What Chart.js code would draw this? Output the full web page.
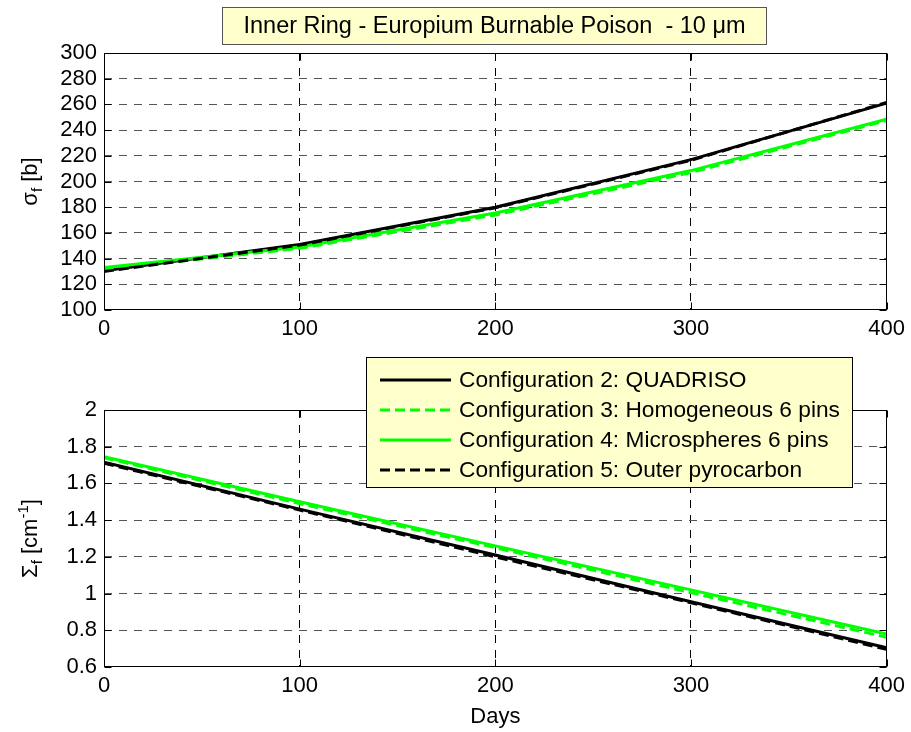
<!DOCTYPE html>
<html><head><meta charset="utf-8">
<script src="https://cdn.jsdelivr.net/npm/chart.js@4.4.1/dist/chart.umd.min.js"></script>
<style>
html,body{margin:0;padding:0;background:#fff;}
#wrap{position:relative;width:911px;height:732px;overflow:hidden;background:#fff;}
canvas{position:absolute;left:0;}
</style></head><body>
<div id="wrap">
<canvas id="c1" width="911" height="345" style="top:0px"></canvas>
<canvas id="c2" width="911" height="387" style="top:345px"></canvas>
</div>
<script>
// ---------------- data ----------------
const days = [0, 100, 200, 300, 400];
const seriesNames = [
  'Configuration 2: QUADRISO',
  'Configuration 3: Homogeneous 6 pins',
  'Configuration 4: Microspheres 6 pins',
  'Configuration 5: Outer pyrocarbon'
];
// microscopic fission cross section sigma_f [b]
const sigmaConfig2 = [130.5, 151, 180, 217, 261];
const sigmaConfig3 = [131.5, 148, 174, 207, 247.5];
const sigmaConfig4 = [133, 149, 175.5, 208.5, 248.5];
const sigmaConfig5 = [130, 150.5, 179.5, 216.5, 261.5];
// macroscopic fission cross section Sigma_f [cm^-1]
const SigmaConfig2 = [1.715, 1.46, 1.21, 0.955, 0.705];
const SigmaConfig3 = [1.74, 1.49, 1.25, 1.005, 0.762];
const SigmaConfig4 = [1.745, 1.50, 1.26, 1.02, 0.78];
const SigmaConfig5 = [1.71, 1.455, 1.20, 0.95, 0.696];
// tick labels
const xTicks = [0, 100, 200, 300, 400];
const sigmaTicks = [100, 120, 140, 160, 180, 200, 220, 240, 260, 280, 300];
const SigmaTicks = [0.6, 0.8, 1, 1.2, 1.4, 1.6, 1.8, 2];
const titleText = 'Inner Ring - Europium Burnable Poison  - 10 \u03BCm';
const xTitle = 'Days';

// ---------------- styles ----------------
const FONT = '"Liberation Sans", Arial, Helvetica, sans-serif';
const FS = 22;
const LEG_FS = 22.7;
const TITLE_FS = 23.5;
const GREEN = '#00ff00';
const styles = [
  {color:'#000', dash:[], order:4},
  {color:GREEN, dash:[10,5], order:3},
  {color:GREEN, dash:[], order:2},
  {color:'#000', dash:[10,5], order:1}
];

function mkDatasets(seriesList){
  return seriesList.map((vals,i)=>({
    label: seriesNames[i],
    data: days.map((d,j)=>({x:d, y:vals[j]})),
    borderColor: styles[i].color,
    borderDash: styles[i].dash,
    borderWidth: 3,
    pointRadius: 0,
    tension: 0,
    fill: false,
    order: styles[i].order,
    borderCapStyle: 'butt'
  }));
}

const framePlugin = {
  id:'frame',
  afterDatasetsDraw(chart){
    const {ctx, chartArea:a, scales} = chart;
    ctx.save();
    ctx.strokeStyle = '#000'; ctx.lineWidth = 1; ctx.setLineDash([]);
    const L = Math.round(a.left)+0.5, R = Math.round(a.right)-0.5, T = Math.round(a.top)+0.5, B = Math.round(a.bottom)-0.5;
    ctx.beginPath();
    scales.x.ticks.forEach(t=>{
      const px = Math.round(scales.x.getPixelForValue(t.value))+0.5;
      ctx.moveTo(px,B); ctx.lineTo(px,B-7); ctx.moveTo(px,T); ctx.lineTo(px,T+7);
    });
    scales.y.ticks.forEach(t=>{
      const py = Math.round(scales.y.getPixelForValue(t.value))+0.5;
      ctx.moveTo(L,py); ctx.lineTo(L+7,py); ctx.moveTo(R,py); ctx.lineTo(R-7,py);
    });
    ctx.stroke();
    ctx.strokeRect(L,T,R-L,B-T);
    ctx.restore();
  }
};

const yTitlePlugin = {
  id:'ytitle',
  afterDraw(chart, args, opts){
    if(!opts || !opts.parts) return;
    const {ctx, chartArea:a} = chart;
    const cy = (a.top+a.bottom)/2;
    ctx.save();
    ctx.fillStyle = '#000';
    ctx.textBaseline = 'alphabetic';
    let total = 0;
    opts.parts.forEach(p=>{ ctx.font = p.size+'px '+FONT; p.w = ctx.measureText(p.t).width; total += p.w; });
    ctx.translate(opts.x, cy);
    ctx.rotate(-Math.PI/2);
    let pos = -total/2;
    opts.parts.forEach(p=>{ ctx.font = p.size+'px '+FONT; ctx.fillText(p.t, pos, p.dy); pos += p.w; });
    ctx.restore();
  }
};

const titleBoxPlugin = {
  id:'titlebox',
  afterDraw(chart, args, opts){
    if(!opts || !opts.text) return;
    const ctx = chart.ctx;
    ctx.save();
    ctx.fillStyle = '#ffffcc';
    ctx.fillRect(opts.x, opts.y, opts.w, opts.h);
    ctx.strokeStyle = '#555'; ctx.lineWidth = 1;
    ctx.strokeRect(opts.x+0.5, opts.y+0.5, opts.w-1, opts.h-1);
    ctx.fillStyle = '#000';
    ctx.font = TITLE_FS+'px '+FONT;
    ctx.textAlign = 'center'; ctx.textBaseline = 'middle';
    ctx.fillText(opts.text, opts.x+opts.w/2, opts.y+opts.h/2+1);
    ctx.restore();
  }
};

const legendBoxPlugin = {
  id:'legendbox',
  afterDraw(chart, args, opts){
    if(!opts || !opts.show) return;
    const ctx = chart.ctx;
    ctx.save();
    ctx.fillStyle = '#ffffcc';
    ctx.fillRect(opts.x, opts.y, opts.w, opts.h);
    ctx.strokeStyle = '#000'; ctx.lineWidth = 1;
    ctx.strokeRect(opts.x+0.5, opts.y+0.5, opts.w-1, opts.h-1);
    const ds = chart.data.datasets;
    ds.forEach((d,i)=>{
      const cy = opts.y + opts.row0 + i*opts.rowH;
      ctx.beginPath();
      ctx.strokeStyle = d.borderColor; ctx.lineWidth = 3;
      ctx.setLineDash(d.borderDash||[]);
      ctx.moveTo(opts.x+14, cy); ctx.lineTo(opts.x+85, cy);
      ctx.stroke();
      ctx.setLineDash([]);
      ctx.fillStyle = '#000';
      ctx.font = LEG_FS+'px '+FONT;
      ctx.textAlign = 'left'; ctx.textBaseline = 'middle';
      ctx.fillText(d.label, opts.x+93, cy+1);
    });
    ctx.restore();
  }
};

function fmt(v){ return String(Number(Number(v).toFixed(2))); }

function makeOptions(cfg){
  return {
    responsive:false, animation:false, events:[],
    layout:{padding:{top:cfg.padTop, right:24, bottom:0, left:0}},
    plugins:{
      legend:{display:false}, tooltip:{enabled:false},
      ytitle:{x:37, parts:cfg.yParts},
      titlebox: cfg.titleBox || {},
      legendbox: cfg.legendBox || {}
    },
    scales:{
      x:{
        type:'linear', min:0, max:400,
        afterFit:s=>{ s.height = cfg.xHeight; },
        afterBuildTicks:s=>{ s.ticks = xTicks.map(v=>({value:v})); },
        ticks:{padding:6, color:'#000', font:{family:FONT, size:FS}, maxRotation:0, autoSkip:false, callback:v=>fmt(v)},
        grid:{drawTicks:false, lineWidth:1, color:c=>(c.tick && (c.tick.value===0||c.tick.value===400)) ? 'rgba(0,0,0,0)' : '#000'},
        border:{display:false, dash:[8,7]},
        title: cfg.xTitle ? {display:true, text:cfg.xTitle, color:'#000', font:{family:FONT, size:FS}, padding:{top:0,bottom:2}} : {display:false}
      },
      y:{
        type:'linear', min:cfg.yMin, max:cfg.yMax,
        afterFit:s=>{ s.width = 104; },
        afterBuildTicks:s=>{ s.ticks = cfg.yTicks.map(v=>({value:v})); },
        ticks:{padding:7, color:'#000', font:{family:FONT, size:FS}, autoSkip:false, callback:v=>fmt(v)},
        grid:{drawTicks:false, lineWidth:1, color:c=>(c.tick && (c.tick.value===cfg.yMin||c.tick.value===cfg.yMax)) ? 'rgba(0,0,0,0)' : '#555'},
        border:{display:false, dash:[8,7]}
      }
    }
  };
}

new Chart(document.getElementById('c1'), {
  type:'line',
  data:{datasets: mkDatasets([sigmaConfig2, sigmaConfig3, sigmaConfig4, sigmaConfig5])},
  options: makeOptions({
    padTop:53, xHeight:35, yMin:100, yMax:300, yTicks:sigmaTicks,
    yParts:[{t:'\u03C3',size:FS,dy:0},{t:'f',size:15,dy:5},{t:' [b]',size:FS,dy:0}],
    titleBox:{text:titleText, x:222, y:7, w:545, h:38}
  }),
  plugins:[framePlugin, yTitlePlugin, titleBoxPlugin]
});

new Chart(document.getElementById('c2'), {
  type:'line',
  data:{datasets: mkDatasets([SigmaConfig2, SigmaConfig3, SigmaConfig4, SigmaConfig5])},
  options: makeOptions({
    padTop:65, xHeight:65, yMin:0.6, yMax:2, yTicks:SigmaTicks, xTitle:xTitle,
    yParts:[{t:'\u03A3',size:FS,dy:0},{t:'f',size:15,dy:5},{t:' [cm',size:FS,dy:0},{t:'-1',size:15,dy:-9},{t:']',size:FS,dy:0}],
    legendBox:{show:true, x:366, y:12, w:487, h:131, row0:23, rowH:30}
  }),
  plugins:[framePlugin, yTitlePlugin, legendBoxPlugin]
});
</script>
</body></html>
